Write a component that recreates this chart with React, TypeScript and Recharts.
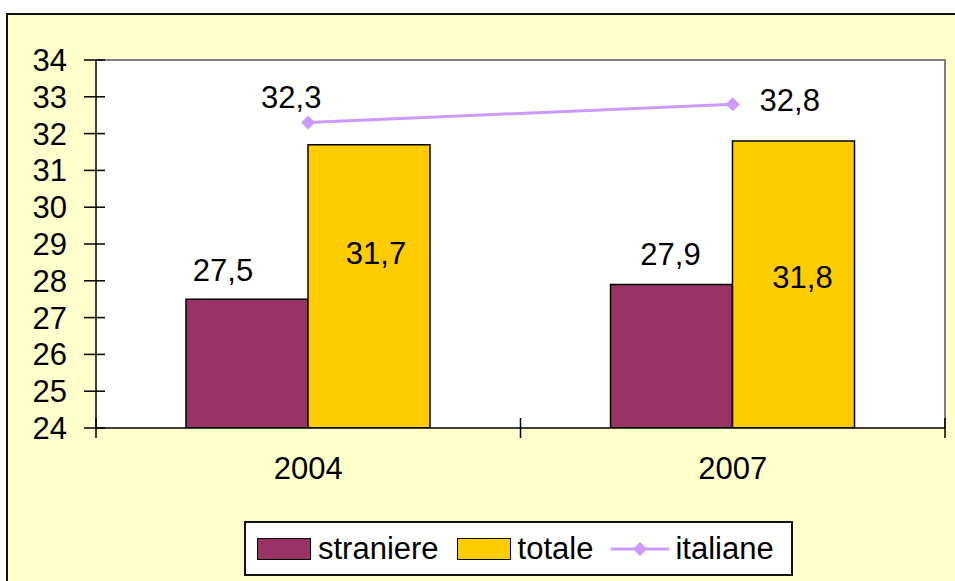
import React from 'react'
import { ComposedChart, Bar, Line, XAxis, YAxis, LabelList } from 'recharts'

const years = ['2004', '2007']
const straniere = [27.5, 27.9]
const totale = [31.7, 31.8]
const italiane = [32.3, 32.8]
const yTicks = [24, 25, 26, 27, 28, 29, 30, 31, 32, 33, 34]

const series = [
  { key: 'straniere', color: '#993366', kind: 'bar' },
  { key: 'totale', color: '#FFCC00', kind: 'bar' },
  { key: 'italiane', color: '#CC99FF', kind: 'line' },
]

const data = years.map((year, i) => ({
  year,
  straniere: straniere[i],
  totale: totale[i],
  italiane: italiane[i],
}))

const FONT = '"Liberation Sans", Arial, sans-serif'
const FS = 31

const fmt = (v: number) => v.toFixed(1).replace('.', ',')

// label nudges, as placed in the original sheet
const stranOff = [[-24, -18], [-1, -19]]
const totOff = [[7, 119], [9, 147]]
const itaOff = [[-17, -15], [57, 7]]

const YTick = (p: any) => {
  const { x, y, payload } = p
  return (
    <g>
      <line x1={x - 12} x2={x + 9} y1={y} y2={y} stroke="#000" strokeWidth={1.5} />
      <text x={x - 29} y={y + 11} textAnchor="end" fontSize={FS} fontFamily={FONT} fill="#000">
        {payload.value}
      </text>
    </g>
  )
}

const XTick = (p: any) => {
  const { x, y, payload, index, visibleTicksCount } = p
  const half = payload.offset || 212
  return (
    <g>
      <line x1={x - half} x2={x - half} y1={y - 10} y2={y + 10} stroke="#000" strokeWidth={1.5} />
      {index === visibleTicksCount - 1 && (
        <line x1={x + half} x2={x + half} y1={y - 10} y2={y + 10} stroke="#000" strokeWidth={1.5} />
      )}
      <text x={x} y={y + 51} textAnchor="middle" fontSize={FS} fontFamily={FONT} fill="#000">
        {payload.value}
      </text>
    </g>
  )
}

const barLabel = (offs: number[][]) => (p: any) => {
  const { x, y, width, value, index } = p
  const [dx, dy] = offs[index] || [0, -10]
  return (
    <text x={x + width / 2 + dx} y={y + dy} textAnchor="middle" fontSize={FS} fontFamily={FONT} fill="#000">
      {fmt(value)}
    </text>
  )
}

const lineLabel = (p: any) => {
  const { x, y, value, index } = p
  const [dx, dy] = itaOff[index] || [0, -10]
  return (
    <text x={x + dx} y={y + dy} textAnchor="middle" fontSize={FS} fontFamily={FONT} fill="#000">
      {fmt(value)}
    </text>
  )
}

const Diamond = (p: any) => {
  const { cx, cy } = p
  if (cx == null || cy == null) return null
  return <path d={`M${cx - 7},${cy} L${cx},${cy - 7} L${cx + 7},${cy} L${cx},${cy + 7} Z`} fill="#CC99FF" />
}

export default function App() {
  return (
    <div style={{ position: 'absolute', left: 0, top: 0, width: 955, height: 581, overflow: 'hidden', fontFamily: FONT }}>
      <div
        style={{
          position: 'absolute',
          left: 6,
          top: 13,
          width: 1000,
          height: 700,
          border: '2px solid #111',
          background: '#FFFFCC',
        }}
      />
      <div
        style={{
          position: 'absolute',
          left: 96,
          top: 59,
          width: 850,
          height: 369,
          background: '#fff',
          borderTop: '2px solid #808080',
          borderRight: '2px solid #808080',
          boxSizing: 'border-box',
        }}
      />
      <ComposedChart
        width={955}
        height={581}
        data={data}
        margin={{ top: 60, right: 10, left: 36, bottom: 93 }}
        barGap={0}
        style={{ position: 'absolute', left: 0, top: 0 }}
      >
        <XAxis
          dataKey="year"
          height={60}
          tickSize={0}
          tickMargin={0}
          tickLine={false}
          axisLine={{ stroke: '#000', strokeWidth: 1.5 }}
          tick={<XTick />}
          interval={0}
        />
        <YAxis
          type="number"
          domain={[24, 34]}
          ticks={yTicks}
          interval={0}
          width={60}
          tickSize={0}
          tickMargin={0}
          tickLine={false}
          axisLine={{ stroke: '#000', strokeWidth: 1.5 }}
          tick={<YTick />}
          allowDataOverflow
        />
        <Bar dataKey="straniere" fill="#993366" stroke="#000" strokeWidth={1.5} barSize={122} isAnimationActive={false}>
          <LabelList dataKey="straniere" content={barLabel(stranOff)} />
        </Bar>
        <Bar dataKey="totale" fill="#FFCC00" stroke="#000" strokeWidth={1.5} barSize={122} isAnimationActive={false}>
          <LabelList dataKey="totale" content={barLabel(totOff)} />
        </Bar>
        <Line
          dataKey="italiane"
          stroke="#CC99FF"
          strokeWidth={3}
          dot={<Diamond />}
          activeDot={false}
          isAnimationActive={false}
        >
          <LabelList dataKey="italiane" content={lineLabel} />
        </Line>
      </ComposedChart>
      <div
        style={{
          position: 'absolute',
          left: 244,
          top: 521,
          width: 549,
          height: 55,
          boxSizing: 'border-box',
          border: '2px solid #111',
          background: '#fff',
          display: 'flex',
          alignItems: 'center',
          paddingLeft: 11,
          fontSize: FS,
          color: '#000',
        }}
      >
        {series.map((s) => (
          <div key={s.key} style={{ display: 'flex', alignItems: 'center', marginRight: 18 }}>
            {s.kind === 'bar' ? (
              <div
                style={{
                  width: 54,
                  height: 22,
                  background: s.color,
                  border: '1.5px solid #000',
                  boxSizing: 'border-box',
                  marginRight: 7,
                }}
              />
            ) : (
              <svg width={58} height={22} style={{ marginRight: 6 }}>
                <line x1={0} x2={58} y1={11} y2={11} stroke={s.color} strokeWidth={3} />
                <path d="M22,11 L29,4 L36,11 L29,18 Z" fill={s.color} />
              </svg>
            )}
            <span style={{ lineHeight: '31px' }}>{s.key}</span>
          </div>
        ))}
      </div>
    </div>
  )
}
